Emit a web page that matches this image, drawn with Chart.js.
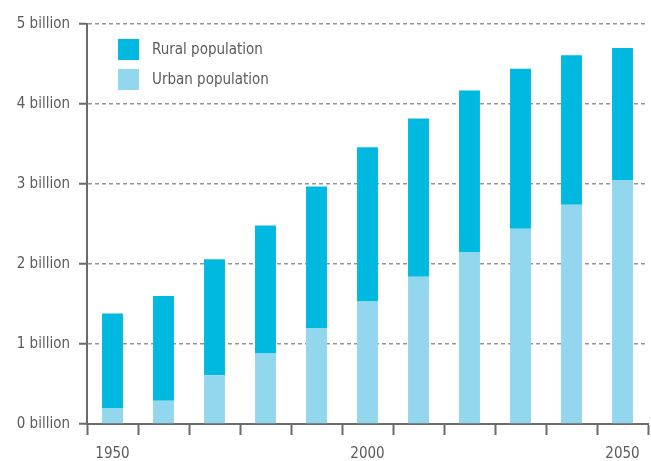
<!DOCTYPE html>
<html>
<head>
<meta charset="utf-8">
<script src="https://cdn.jsdelivr.net/npm/chart.js@4/dist/chart.umd.min.js"></script>
<style>
  html, body { margin: 0; padding: 0; background: #fff; }
  #wrap { width: 651px; height: 461px; }
</style>
</head>
<body>
<div id="wrap"><canvas id="chart"></canvas></div>
<script>
const years = ['1950', '1960', '1970', '1980', '1990', '2000', '2010', '2020', '2030', '2040', '2050']
const shownYears = ['1950', '2000', '2050']
// billions
const urban = [0.20, 0.29, 0.61, 0.88, 1.20, 1.53, 1.84, 2.15, 2.44, 2.74, 3.05]
const rural = [1.18, 1.31, 1.45, 1.60, 1.77, 1.93, 1.98, 2.02, 2.00, 1.87, 1.65]

const FONT = "'Liberation Sans Narrow', 'DejaVu Sans Condensed', sans-serif"
const TEXT = '#5b5b5b'
const AXIS = '#6b6b6b'

// legend drawn inside the plot, top-left, rural first
const insideLegend = {
  id: 'insideLegend',
  afterDraw (chart) {
    const ctx = chart.ctx
    const area = chart.chartArea
    const items = chart.data.datasets.slice().reverse()
    ctx.save()
    ctx.font = '15px ' + FONT
    ctx.textBaseline = 'middle'
    items.forEach((d, i) => {
      const x = area.left + 31
      const y = area.top + 15 + i * 30
      ctx.fillStyle = d.backgroundColor
      ctx.fillRect(x, y, 21, 21)
      ctx.fillStyle = TEXT
      ctx.fillText(d.label, x + 34, y + 11)
    })
    ctx.restore()
  }
}

new Chart(document.getElementById('chart'), {
  type: 'bar',
  data: {
    labels: years,
    datasets: [{
      label: 'Urban population',
      data: urban,
      backgroundColor: '#93d7ee',
      barPercentage: 0.41,
      categoryPercentage: 1
    },
    {
      label: 'Rural population',
      data: rural,
      backgroundColor: '#00b9e1',
      barPercentage: 0.41,
      categoryPercentage: 1
    }]
  },
  options: {
    responsive: true,
    maintainAspectRatio: false,
    animation: false,
    layout: { padding: { top: 24, right: 3, left: 0, bottom: 0 } },
    plugins: {
      legend: { display: false },
      tooltip: { enabled: false }
    },
    scales: {
      x: {
        stacked: true,
        afterFit: s => { s.height = 37 },
        border: { display: true, color: AXIS, width: 2 },
        grid: {
          drawOnChartArea: false,
          drawTicks: true,
          tickLength: 11,
          tickColor: AXIS,
          tickWidth: 2
        },
        ticks: {
          autoSkip: false,
          maxRotation: 0,
          padding: 10,
          color: TEXT,
          font: { family: FONT, size: 15 },
          callback: function (v) {
            const y = this.getLabelForValue(v)
            return shownYears.includes(y) ? y : ''
          }
        }
      },
      y: {
        stacked: true,
        min: 0,
        max: 5,
        afterFit: s => { s.width = 87 },
        border: { display: true, color: AXIS, width: 2, dash: [4, 3] },
        grid: {
          color: '#959595',
          lineWidth: 1.5,
          tickLength: 8,
          tickColor: AXIS,
          tickWidth: 2,
          tickBorderDash: [1, 0]
        },
        ticks: {
          stepSize: 1,
          padding: 9,
          color: TEXT,
          font: { family: FONT, size: 15 },
          callback: v => v + ' billion'
        }
      }
    }
  },
  plugins: [insideLegend]
})
</script>
</body>
</html>
